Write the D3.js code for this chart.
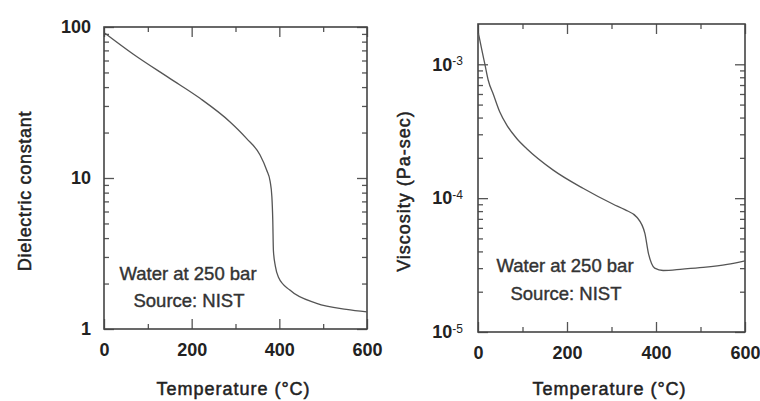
<!DOCTYPE html>
<html>
<head>
<meta charset="utf-8">
<script src="https://cdn.jsdelivr.net/npm/d3@7"></script>
<style>
  body { margin: 0; background: #fff; }
  svg { display: block; font-family: "Liberation Sans", Arial, sans-serif; }
  .frame { fill: none; stroke: #444; stroke-width: 1.6; }
  .curve { fill: none; stroke: #555; stroke-width: 1.3; }
  .axis path { display: none; }
  .axis line { stroke: #555; stroke-width: 1.3; }
  .axis text { font-size: 18px; font-weight: bold; fill: #222; }
  .axis-title { font-size: 18px; fill: #222; stroke: #222; stroke-width: 0.5px; letter-spacing: 1px; }
  .note { font-size: 18.5px; fill: #333; stroke: #333; stroke-width: 0.4px; text-anchor: middle; }
</style>
</head>
<body>
<div id="chart"></div>
<script>
// temperature (°C) vs dielectric constant, water at 250 bar
const tempDielectric = [2, 67, 150, 219, 287, 325, 356, 371, 379, 383, 385, 386.5, 391, 398, 424, 485, 553, 600];
const dielectric = [91, 66, 45.7, 33.7, 23.6, 18.3, 14.2, 11.3, 9.5, 7.5, 5.3, 3.3, 2.6, 2.2, 1.81, 1.48, 1.35, 1.30];

// temperature (°C) vs viscosity (Pa-sec)
const tempViscosity = [1, 8, 16, 23, 35, 49, 65, 87, 109, 169, 237, 304, 330, 357, 375, 383, 390, 397, 416, 460, 506, 560, 600];
const viscosity = [1.7e-3, 1.31e-3, 9.8e-4, 7.6e-4, 5.9e-4, 4.4e-4, 3.5e-4, 2.79e-4, 2.35e-4, 1.62e-4, 1.18e-4, 9.0e-5, 8.2e-5, 7.2e-5, 5.45e-5, 3.87e-5, 3.25e-5, 3.0e-5, 2.88e-5, 2.95e-5, 3.04e-5, 3.2e-5, 3.4e-5];

const xTicks = [0, 200, 400, 600];
const xMinorTicks = [100, 300, 500];
const dielectricTicks = [1, 10, 100];
const viscosityTicks = [1e-5, 1e-4, 1e-3];

const notes = ["Water at 250 bar", "Source: NIST"];

const svg = d3.select("#chart").append("svg")
    .attr("width", 760)
    .attr("height", 401);

function minorLogTicks(lo, hi) {
    let out = [];
    for (let p = Math.floor(Math.log10(lo)); p < Math.ceil(Math.log10(hi)); p++) {
        for (let m = 2; m <= 9; m++) {
            let v = m * Math.pow(10, p);
            if (v > lo && v < hi) out.push(v);
        }
    }
    return out;
}

function panel(opt) {
    let x = d3.scaleLinear().domain([0, 600]).range([opt.left, opt.right]);
    let y = d3.scaleLog().domain(opt.yDomain).range([opt.bottom, opt.top]);
    let g = svg.append("g");

    let yMinor = minorLogTicks(opt.yDomain[0], opt.yDomain[1]);

    // bottom / top
    g.append("g").attr("class", "axis")
        .attr("transform", "translate(0," + opt.bottom + ")")
        .call(d3.axisBottom(x).tickValues(xTicks).tickSize(-10).tickPadding(14).tickFormat(d3.format("d")));
    g.append("g").attr("class", "axis")
        .attr("transform", "translate(0," + opt.bottom + ")")
        .call(d3.axisBottom(x).tickValues(xMinorTicks).tickSize(-5).tickFormat(""));
    g.append("g").attr("class", "axis")
        .attr("transform", "translate(0," + opt.top + ")")
        .call(d3.axisTop(x).tickValues(xTicks).tickSize(-10).tickFormat(""));
    g.append("g").attr("class", "axis")
        .attr("transform", "translate(0," + opt.top + ")")
        .call(d3.axisTop(x).tickValues(xMinorTicks).tickSize(-5).tickFormat(""));

    // left / right
    let yAxis = g.append("g").attr("class", "axis")
        .attr("transform", "translate(" + opt.left + ",0)")
        .call(d3.axisLeft(y).tickValues(opt.yTicks).tickSize(-10).tickPadding(opt.yPad).tickFormat(opt.yFormat));
    g.append("g").attr("class", "axis")
        .attr("transform", "translate(" + opt.left + ",0)")
        .call(d3.axisLeft(y).tickValues(yMinor).tickSize(-5).tickFormat(""));
    g.append("g").attr("class", "axis")
        .attr("transform", "translate(" + opt.right + ",0)")
        .call(d3.axisRight(y).tickValues(opt.yTicks).tickSize(-10).tickFormat(""));
    g.append("g").attr("class", "axis")
        .attr("transform", "translate(" + opt.right + ",0)")
        .call(d3.axisRight(y).tickValues(yMinor).tickSize(-5).tickFormat(""));

    if (opt.power) {
        yAxis.selectAll(".tick text").each(function(d) {
            let t = d3.select(this).text("");
            t.append("tspan").text("10");
            t.append("tspan").attr("dy", "-0.45em").attr("font-size", 12).attr("font-weight", "normal")
                .text(Math.round(Math.log10(d)));
        });
    }

    g.append("rect").attr("class", "frame")
        .attr("x", opt.left).attr("y", opt.top)
        .attr("width", opt.right - opt.left).attr("height", opt.bottom - opt.top);

    let line = d3.line()
        .x(d => x(d[0]))
        .y(d => y(d[1]))
        .curve(d3.curveMonotoneX);
    g.append("path").attr("class", "curve")
        .attr("d", line(d3.zip(opt.xs, opt.ys)));

    g.append("text").attr("class", "note")
        .attr("x", opt.left + opt.noteDx).attr("y", opt.bottom - opt.noteDy[0])
        .text(notes[0]);
    g.append("text").attr("class", "note")
        .attr("x", opt.left + opt.noteDx + 1).attr("y", opt.bottom - opt.noteDy[1])
        .text(notes[1]);

    g.append("text").attr("class", "axis-title")
        .attr("text-anchor", "middle")
        .attr("x", (opt.left + opt.right) / 2 - 2)
        .attr("y", 395)
        .text("Temperature (°C)");

    g.append("text").attr("class", "axis-title")
        .attr("text-anchor", "middle")
        .attr("transform", "translate(" + opt.titleX + "," + ((opt.top + opt.bottom) / 2 + 13) + ") rotate(-90)")
        .style("letter-spacing", opt.titleSpacing)
        .text(opt.yTitle);
}

panel({
    left: 104, right: 367, top: 27, bottom: 329,
    yDomain: [1, 100], yTicks: dielectricTicks, yFormat: d3.format("d"), yPad: 13,
    xs: tempDielectric, ys: dielectric,
    noteDx: 84, noteDy: [49, 22],
    titleX: 31, yTitle: "Dielectric constant", titleSpacing: "0.7px"
});

panel({
    left: 478, right: 745, top: 24, bottom: 332,
    yDomain: [1e-5, 2e-3], yTicks: viscosityTicks, yFormat: d3.format("d"), yPad: 15, power: true,
    xs: tempViscosity, ys: viscosity,
    noteDx: 87, noteDy: [60, 32],
    titleX: 410, yTitle: "Viscosity (Pa-sec)", titleSpacing: "1px"
});
</script>
</body>
</html>
